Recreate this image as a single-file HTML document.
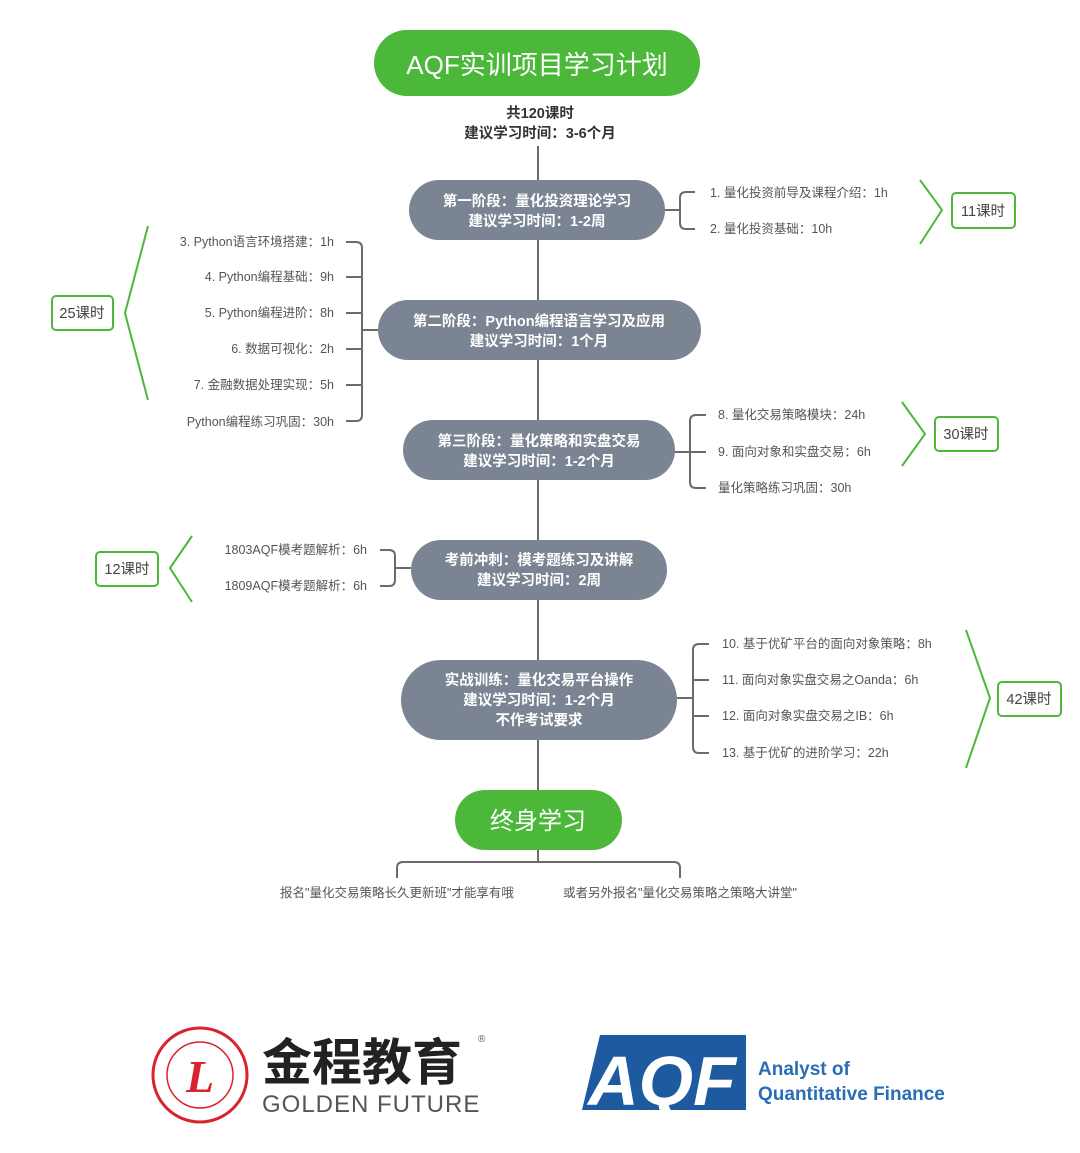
<!DOCTYPE html>
<html><head><meta charset="utf-8"><style>
body{margin:0;background:#fff;}
svg{display:block;font-family:"Liberation Sans","Noto Sans CJK SC",sans-serif;}
.it{font-size:12.5px;fill:#555;}
.nd{font-size:14.5px;fill:#fff;font-weight:bold;text-anchor:middle;}
.gb{fill:#fff;stroke:#4cb83a;stroke-width:2;}
.gt{font-size:14.5px;fill:#444;text-anchor:middle;}
.ln{stroke:#6b6b6b;stroke-width:2;fill:none;}
.ch{stroke:#4cb83a;stroke-width:2;fill:none;}
</style></head><body>
<svg width="1080" height="1153" viewBox="0 0 1080 1153">
<rect x="374" y="30" width="326" height="66" rx="33" fill="#4cb83a"/>
<text x="537" y="74" font-size="26" fill="#fff" text-anchor="middle">AQF实训项目学习计划</text>
<text x="540" y="118" font-size="14.5" font-weight="bold" fill="#333" text-anchor="middle">共120课时</text>
<text x="540" y="138" font-size="14.5" font-weight="bold" fill="#333" text-anchor="middle">建议学习时间：3-6个月</text>
<line class="ln" x1="538" y1="146" x2="538" y2="795"/>

<rect x="409" y="180" width="256" height="60" rx="30" fill="#7b8492"/>
<text class="nd" x="537" y="206">第一阶段：量化投资理论学习</text>
<text class="nd" x="537" y="226">建议学习时间：1-2周</text>
<rect x="378" y="300" width="323" height="60" rx="30" fill="#7b8492"/>
<text class="nd" x="539" y="326">第二阶段：Python编程语言学习及应用</text>
<text class="nd" x="539" y="346">建议学习时间：1个月</text>
<rect x="403" y="420" width="272" height="60" rx="30" fill="#7b8492"/>
<text class="nd" x="539" y="446">第三阶段：量化策略和实盘交易</text>
<text class="nd" x="539" y="466">建议学习时间：1-2个月</text>
<rect x="411" y="540" width="256" height="60" rx="30" fill="#7b8492"/>
<text class="nd" x="539" y="565">考前冲刺：模考题练习及讲解</text>
<text class="nd" x="539" y="585">建议学习时间：2周</text>
<rect x="401" y="660" width="276" height="80" rx="40" fill="#7b8492"/>
<text class="nd" x="539" y="685">实战训练：量化交易平台操作</text>
<text class="nd" x="539" y="705">建议学习时间：1-2个月</text>
<text class="nd" x="539" y="725">不作考试要求</text>
<rect x="455" y="790" width="167" height="60" rx="30" fill="#4cb83a"/>
<text x="538" y="829" font-size="24" fill="#fff" text-anchor="middle">终身学习</text>

<!-- bottom bracket -->
<path class="ln" d="M538 850V862M397 878V868Q397 862 403 862H674Q680 862 680 868V878" stroke-width="1.5"/>
<text class="it" x="397" y="897" text-anchor="middle">报名"量化交易策略长久更新班"才能享有哦</text>
<text class="it" x="680" y="897" text-anchor="middle">或者另外报名"量化交易策略之策略大讲堂"</text>

<!-- node1 right -->
<path class="ln" stroke-width="1.5" d="M665 210H680M695 192H686Q680 192 680 198V223Q680 229 686 229H695"/>
<text class="it" x="710" y="197">1. 量化投资前导及课程介绍：1h</text>
<text class="it" x="710" y="233">2. 量化投资基础：10h</text>
<path class="ch" d="M920 180L942 210L920 244"/>
<rect class="gb" x="952" y="193" width="63" height="35" rx="4"/>
<text class="gt" x="983" y="216">11课时</text>

<!-- node2 left -->
<path class="ln" stroke-width="1.5" d="M378 330H362M346 242H356Q362 242 362 248V415Q362 421 356 421H346M346 277H362M346 313H362M346 349H362M346 385H362"/>
<text class="it" x="334" y="246" text-anchor="end">3. Python语言环境搭建：1h</text>
<text class="it" x="334" y="281" text-anchor="end">4. Python编程基础：9h</text>
<text class="it" x="334" y="317" text-anchor="end">5. Python编程进阶：8h</text>
<text class="it" x="334" y="353" text-anchor="end">6. 数据可视化：2h</text>
<text class="it" x="334" y="389" text-anchor="end">7. 金融数据处理实现：5h</text>
<text class="it" x="334" y="426" text-anchor="end">Python编程练习巩固：30h</text>
<path class="ch" d="M148 226L125 313L148 400"/>
<rect class="gb" x="52" y="296" width="61" height="34" rx="4"/>
<text class="gt" x="82" y="318">25课时</text>

<!-- node3 right -->
<path class="ln" stroke-width="1.5" d="M675 452H706M706 415H696Q690 415 690 421V482Q690 488 696 488H706"/>
<text class="it" x="718" y="419">8. 量化交易策略模块：24h</text>
<text class="it" x="718" y="456">9. 面向对象和实盘交易：6h</text>
<text class="it" x="718" y="492">量化策略练习巩固：30h</text>
<path class="ch" d="M902 402L925 434L902 466"/>
<rect class="gb" x="935" y="417" width="63" height="34" rx="4"/>
<text class="gt" x="966" y="439">30课时</text>

<!-- node4 left -->
<path class="ln" stroke-width="1.5" d="M411 568H395M380 550H389Q395 550 395 556V580Q395 586 389 586H380"/>
<text class="it" x="367" y="554" text-anchor="end">1803AQF模考题解析：6h</text>
<text class="it" x="367" y="590" text-anchor="end">1809AQF模考题解析：6h</text>
<path class="ch" d="M192 536L170 568L192 602"/>
<rect class="gb" x="96" y="552" width="62" height="34" rx="4"/>
<text class="gt" x="127" y="574">12课时</text>

<!-- node5 right -->
<path class="ln" stroke-width="1.5" d="M677 698H693M709 644H699Q693 644 693 650V747Q693 753 699 753H709M693 680H709M693 716H709"/>
<text class="it" x="722" y="648">10. 基于优矿平台的面向对象策略：8h</text>
<text class="it" x="722" y="684">11. 面向对象实盘交易之Oanda：6h</text>
<text class="it" x="722" y="720">12. 面向对象实盘交易之IB：6h</text>
<text class="it" x="722" y="757">13. 基于优矿的进阶学习：22h</text>
<path class="ch" d="M966 630L990 698L966 768"/>
<rect class="gb" x="998" y="682" width="63" height="34" rx="4"/>
<text class="gt" x="1029" y="704">42课时</text>

<!-- logos -->
<circle cx="200" cy="1075" r="47" fill="none" stroke="#d9232d" stroke-width="3"/>
<circle cx="200" cy="1075" r="33" fill="none" stroke="#d9232d" stroke-width="1.5"/>
<text x="200" y="1092" font-size="46" font-style="italic" font-weight="bold" fill="#d9232d" text-anchor="middle" font-family="Liberation Serif">L</text>
<text x="262" y="1080" font-size="50" font-weight="bold" fill="#222">金程教育</text>
<text x="478" y="1042" font-size="10" fill="#555">®</text>
<text x="262" y="1112" font-size="24" fill="#555" letter-spacing="1">GOLDEN FUTURE</text>
<polygon points="600,1035 746,1035 746,1110 582,1110" fill="#1e5aa0"/>
<text x="662" y="1105" font-size="70" font-weight="bold" font-style="italic" fill="#fff" text-anchor="middle">AQF</text>
<text x="758" y="1075" font-size="19" font-weight="bold" fill="#2a6db5">Analyst of</text>
<text x="758" y="1100" font-size="19" font-weight="bold" fill="#2a6db5">Quantitative Finance</text>
</svg>
</body></html>
